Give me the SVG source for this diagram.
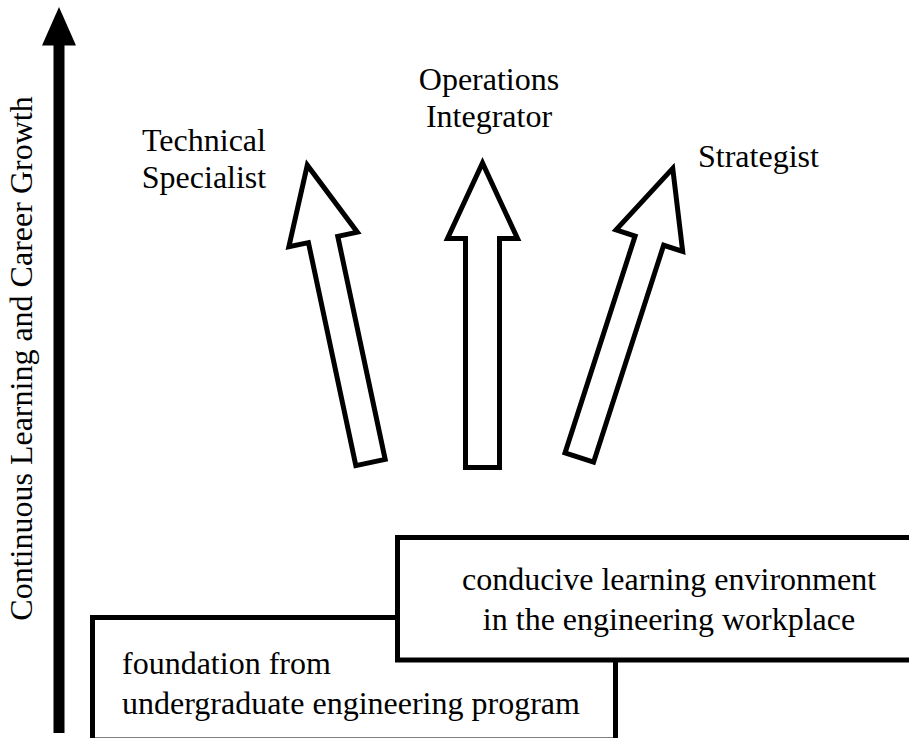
<svg xmlns="http://www.w3.org/2000/svg" width="909" height="738" viewBox="0 0 909 738">
<style>
text{font-family:"Liberation Serif","Times New Roman",serif;font-size:32px;fill:#000}
.box{fill:#fff;stroke:#000;stroke-width:5}
.arr{fill:#fff;stroke:#000;stroke-width:5;stroke-linejoin:miter;stroke-miterlimit:10}
</style>
<defs>
<path id="slant" d="M-15,0 L15,0 L15,-228 L35,-228 L0,-304 L-35,-228 L-15,-228 Z"/>
</defs>
<rect width="909" height="738" fill="#fff"/>
<g id="axis">
<rect x="53.5" y="40" width="11" height="693" fill="#000"/>
<polygon points="59,7 42,45.5 76,45.5" fill="#000"/>
<text transform="translate(32,358.5) rotate(-90)" text-anchor="middle">Continuous Learning and Career Growth</text>
</g>
<g id="foundation">
<rect class="box" x="92.5" y="617.5" width="523" height="122.5"/>
<text x="122" y="674">foundation from</text>
<text x="122" y="714">undergraduate engineering program</text>
</g>
<g id="environment">
<rect class="box" x="397.5" y="537.5" width="520" height="122.5"/>
<text x="669" y="590" text-anchor="middle">conducive learning environment</text>
<text x="669" y="630" text-anchor="middle">in the engineering workplace</text>
</g>
<g id="connectors">
<g id="arrow-technical" transform="translate(370.5,462.5) rotate(-12)"><use href="#slant" class="arr"/></g>
<g id="arrow-operations" transform="translate(482.5,467.5)"><path class="arr" d="M-17,0 L17,0 L17,-229 L35,-229 L0,-304.5 L-35,-229 L-17,-229 Z"/></g>
<g id="arrow-strategist" transform="translate(579.3,457.6) rotate(17.9)"><use href="#slant" class="arr"/></g>
</g>
<g id="technical-specialist">
<text x="204" y="151" text-anchor="middle">Technical</text>
<text x="204" y="188" text-anchor="middle">Specialist</text>
</g>
<g id="operations-integrator">
<text x="489" y="90" text-anchor="middle">Operations</text>
<text x="489" y="127" text-anchor="middle">Integrator</text>
</g>
<g id="strategist">
<text x="698" y="167">Strategist</text>
</g>
</svg>
